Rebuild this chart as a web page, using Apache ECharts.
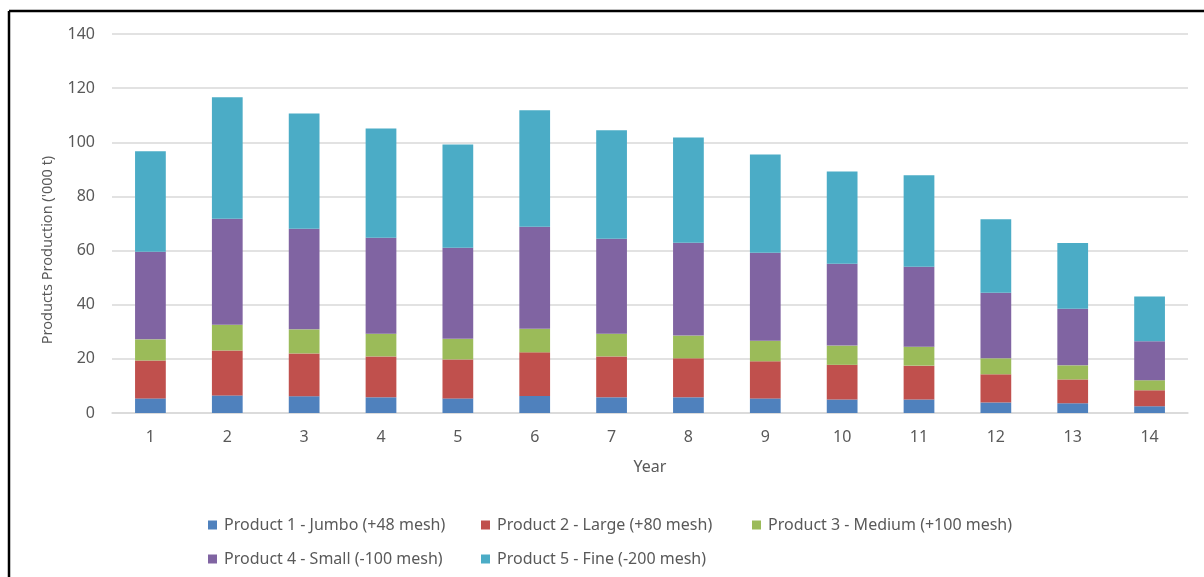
<!DOCTYPE html>
<html>
<head>
<meta charset="utf-8">
<title>Products Production</title>
<script src="https://cdn.jsdelivr.net/npm/echarts@6/dist/echarts.min.js"></script>
<style>
  html, body { margin: 0; padding: 0; background: #ffffff; }
  #chart { width: 1204px; height: 577px; }
</style>
</head>
<body>
<div id="chart"></div>
<script>
// Annual production by product size class ('000 t)
const years = ['1','2','3','4','5','6','7','8','9','10','11','12','13','14'];
const product1 = [5.4, 6.5, 6.2, 5.8, 5.4, 6.3, 5.8, 5.8, 5.4, 5.0, 5.0, 3.9, 3.6, 2.5];
const product2 = [14.0, 16.6, 15.8, 15.1, 14.4, 16.1, 15.1, 14.4, 13.7, 12.8, 12.5, 10.4, 8.8, 5.9];
const product3 = [7.8, 9.5, 8.9, 8.4, 7.6, 8.7, 8.4, 8.4, 7.6, 7.1, 7.0, 5.9, 5.2, 3.7];
const product4 = [32.4, 39.2, 37.2, 35.4, 33.6, 37.7, 35.1, 34.3, 32.5, 30.2, 29.5, 24.2, 20.9, 14.4];
const product5 = [37.1, 44.8, 42.5, 40.4, 38.2, 43.0, 40.0, 38.9, 36.3, 34.1, 33.8, 27.2, 24.3, 16.5];

const seriesNames = [
  'Product 1 - Jumbo (+48 mesh)',
  'Product 2 - Large (+80 mesh)',
  'Product 3 - Medium (+100 mesh)',
  'Product 4 - Small (-100 mesh)',
  'Product 5 - Fine (-200 mesh)'
];
const seriesData = [product1, product2, product3, product4, product5];
const colors = ['#4F81BD', '#C0504D', '#9BBB59', '#8064A2', '#4BACC6'];
const yAxisTitle = "Products Production ('000 t)";

const FONT = '"Noto Sans", sans-serif';
const TEXT = '#595959';

// legend laid out as a 3-column grid
const legendSlots = [
  { left: 208, top: 517 },
  { left: 481, top: 517 },
  { left: 752, top: 517 },
  { left: 208, top: 551 },
  { left: 481, top: 551 }
];

const chart = echarts.init(document.getElementById('chart'), null, { renderer: 'canvas' });

chart.setOption({
  animation: false,
  backgroundColor: '#ffffff',
  color: colors,
  textStyle: { fontFamily: FONT },
  grid: { left: 112, right: 16, top: 34, bottom: 164, containLabel: false },
  legend: legendSlots.map((pos, i) => ({
    data: [seriesNames[i]],
    left: pos.left,
    top: pos.top,
    itemWidth: 9,
    itemHeight: 9,
    itemGap: 0,
    padding: 0,
    icon: 'rect',
    selectedMode: false,
    textStyle: { color: TEXT, fontSize: 16, fontFamily: FONT, padding: [0, 0, 0, 2] }
  })),
  xAxis: {
    type: 'category',
    data: years,
    name: 'Year',
    nameLocation: 'middle',
    nameGap: 46,
    nameTextStyle: { color: TEXT, fontSize: 16, fontFamily: FONT },
    axisLine: { show: true, lineStyle: { color: '#D9D9D9', width: 1.5 } },
    axisTick: { show: false },
    axisLabel: { color: TEXT, fontSize: 16, fontFamily: FONT, margin: 16 }
  },
  yAxis: {
    type: 'value',
    min: 0,
    max: 140,
    interval: 20,
    axisLine: { show: false },
    axisTick: { show: false },
    axisLabel: { color: TEXT, fontSize: 16, fontFamily: FONT, margin: 17 },
    splitLine: { show: true, lineStyle: { color: '#D9D9D9', width: 1.5 } }
  },
  series: seriesData.map((d, i) => ({
    name: seriesNames[i],
    type: 'bar',
    stack: 'total',
    data: d,
    barWidth: '40%',
    itemStyle: { color: colors[i] }
  })),
  graphic: [
    // vertical axis title
    {
      type: 'text',
      x: 48,
      y: 250,
      rotation: Math.PI / 2,
      silent: true,
      style: {
        text: yAxisTitle,
        fill: TEXT,
        font: '14.5px ' + FONT,
        align: 'center',
        verticalAlign: 'middle'
      }
    },
    // chart frame (top and left edges)
    { type: 'line', shape: { x1: 9, y1: 11, x2: 1204, y2: 11 }, style: { stroke: '#000', lineWidth: 2.5 }, silent: true },
    { type: 'line', shape: { x1: 9, y1: 11, x2: 9, y2: 577 }, style: { stroke: '#000', lineWidth: 2.5 }, silent: true }
  ]
});
</script>
</body>
</html>
